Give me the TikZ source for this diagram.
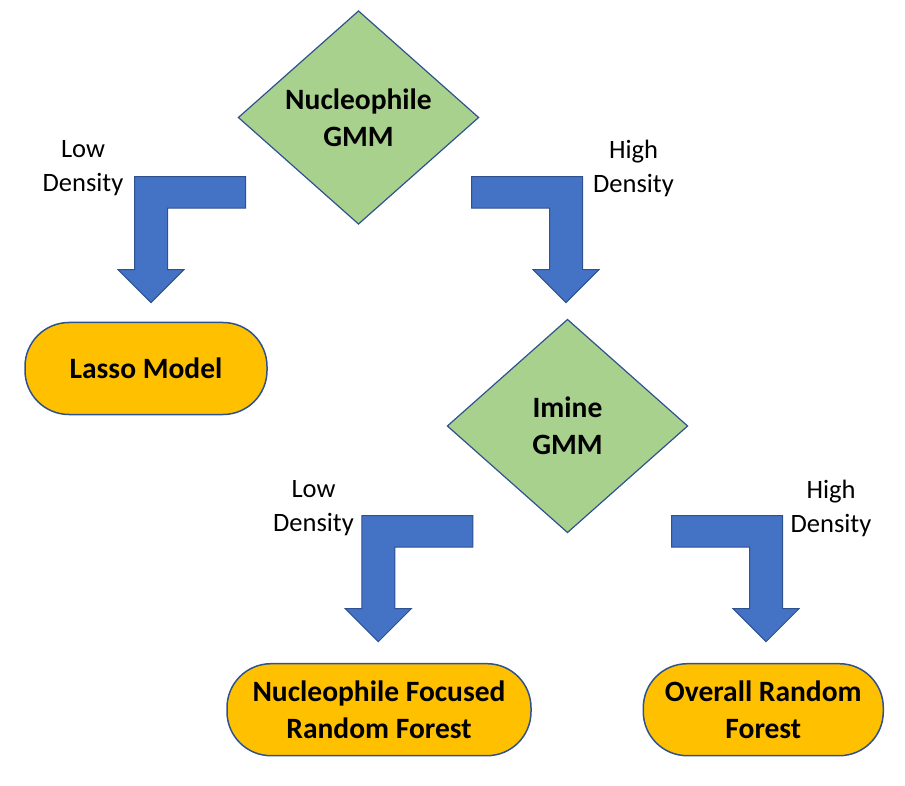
\documentclass[tikz,border=0pt]{standalone}
\usepackage{fontspec}
\setmainfont{Carlito}
\usetikzlibrary{shapes.geometric}
\definecolor{gmmgreen}{HTML}{A9D18E}
\definecolor{modelgold}{HTML}{FFC000}
\definecolor{arrowblue}{HTML}{4472C4}
\definecolor{edgeblue}{HTML}{2F528F}

\begin{document}
\begin{tikzpicture}[
      x=1pt, y=-1pt,
      % decision diamonds and model end boxes
      gmm/.style={diamond, draw=edgeblue, fill=gmmgreen, line width=1.2pt, inner sep=0pt, minimum width=240.7pt, minimum height=213.5pt, align=center, font=\fontsize{29.5}{36.7}\selectfont\bfseries},
      model/.style={rectangle, rounded corners=44pt, draw=edgeblue, fill=modelgold, line width=1.5pt, minimum height=92pt, inner sep=0pt, align=center, font=\fontsize{29.5}{36.7}\selectfont\bfseries},
      branch/.style={align=center, inner sep=0pt, font=\fontsize{26.5}{34}\selectfont},
      bentarrow/.pic={\draw[draw=edgeblue, fill=arrowblue, line width=1pt, line join=miter] (-16.5,-126) -- (94.5,-126) -- (94.5,-94.5) -- (16.5,-94.5) -- (16.5,-33) -- (33,-33) -- (0,0) -- (-33,-33) -- (-16.5,-33) -- cycle;}
    ]
      \useasboundingbox (0,0) rectangle (905,786);
      \node[gmm] (nuc) at (358.5,117.5) {Nucleophile\\GMM};
      \node[gmm] (imi) at (567.5,426) {Imine\\GMM};
      \node[model, minimum width=242pt] (lasso) at (146,368.5) {Lasso Model};
      \node[model, minimum width=304pt] (nrf) at (379,709.7) {Nucleophile Focused\\Random Forest};
      \node[model, minimum width=240pt] (orf) at (763.3,709.7) {Overall Random\\Forest};
      \node[branch] (lowA) at (83,168) {Low\\Density};
      \node[branch] (highA) at (633.5,168) {High\\Density};
      \node[branch] (lowB) at (313.5,508) {Low\\Density};
      \node[branch] (highB) at (831,508) {High\\Density};
      \coordinate (tipA) at (151,302.7);
      \coordinate (tipB) at (566,302.7);
      \coordinate (tipC) at (378.3,641.7);
      \coordinate (tipD) at (766,641.7);
      \pic at (tipA) {bentarrow};
      \pic[xscale=-1] at (tipB) {bentarrow};
      \pic at (tipC) {bentarrow};
      \pic[xscale=-1] at (tipD) {bentarrow};
    \end{tikzpicture}
\end{document}
